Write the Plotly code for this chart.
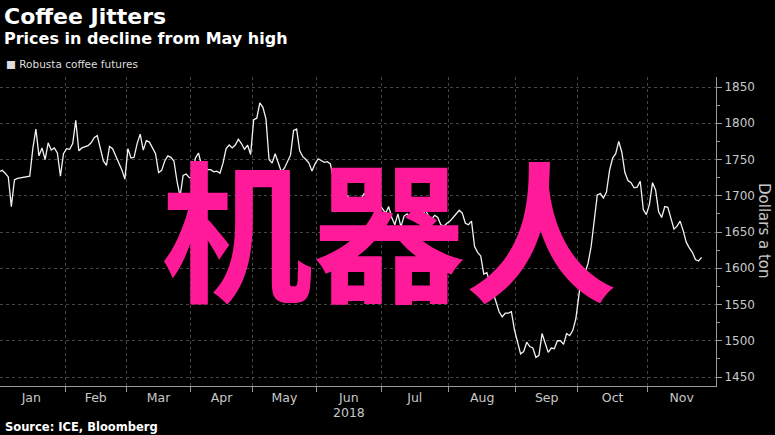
import pandas as pd
import plotly.graph_objects as go

# ---------------- data ----------------
title_text = "Coffee Jitters"
subtitle_text = "Prices in decline from May high"
series_name = "Robusta coffee futures"
source_text = "Source: ICE, Bloomberg"
y_title = "Dollars a ton"
year_label = "2018"
watermark_text = "机器人"

month_labels = ["Jan", "Feb", "Mar", "Apr", "May", "Jun", "Jul", "Aug", "Sep", "Oct", "Nov"]
y_ticks = [1450, 1500, 1550, 1600, 1650, 1700, 1750, 1800, 1850]
uk_holidays = ["2018-01-01", "2018-03-30", "2018-04-02", "2018-05-07",
               "2018-05-28", "2018-08-27", "2018-12-25", "2018-12-26"]

# daily robusta settlement prices (USD/t), 2 Jan 2018 onwards
prices = [
    1733, 1735, 1731, 1726, 1685, 1722, 1724, 1725, 1726, 1727,
    1727, 1765, 1792, 1755, 1766, 1750, 1773, 1763, 1766, 1759,
    1727, 1758, 1765, 1764, 1772, 1804, 1762, 1766, 1768, 1769,
    1773, 1780, 1783, 1765, 1748, 1742, 1768, 1765, 1756, 1745,
    1736, 1723, 1765, 1752, 1753, 1772, 1785, 1763, 1776, 1774,
    1767, 1758, 1732, 1735, 1748, 1755, 1753, 1748, 1720, 1699,
    1728, 1730, 1725, 1725, 1752, 1759, 1742, 1738, 1736, 1736,
    1733, 1734, 1731, 1745, 1765, 1770, 1766, 1770, 1778, 1772,
    1764, 1770, 1757, 1805, 1807, 1828, 1822, 1806, 1750, 1745,
    1758, 1745, 1733, 1738, 1747, 1756, 1790, 1792, 1762, 1754,
    1750, 1745, 1734, 1744, 1751, 1748, 1746, 1747, 1744, 1723,
    1715, 1710, 1706, 1702, 1698, 1694, 1696, 1693, 1696, 1703,
    1697, 1692, 1690, 1692, 1688, 1682, 1676, 1685, 1670, 1660,
    1675, 1657, 1672, 1675, 1670, 1678, 1672, 1668, 1674, 1680,
    1672, 1668, 1673, 1670, 1660, 1658, 1662, 1665, 1670, 1675,
    1680, 1676, 1662, 1660, 1665, 1630, 1622, 1617, 1592, 1594,
    1580, 1568, 1555, 1540, 1533, 1538, 1538, 1540, 1515, 1497,
    1482, 1485, 1498, 1492, 1490, 1477, 1480, 1510, 1497, 1484,
    1490, 1489, 1500, 1500, 1495, 1510, 1507, 1514, 1530, 1565,
    1595, 1594, 1607, 1630, 1670, 1701, 1703, 1697, 1705, 1735,
    1752, 1758, 1775, 1760, 1732, 1721, 1718, 1711, 1712, 1720,
    1681, 1674, 1688, 1718, 1708, 1678, 1670, 1685, 1684, 1670,
    1654, 1658, 1665, 1652, 1636, 1628, 1622, 1612, 1610, 1615,
]

# ---------------- trading-day axis ----------------
cal = pd.offsets.CustomBusinessDay(holidays=uk_holidays)
all_days = pd.date_range("2018-01-02", "2018-12-31", freq=cal)
dates = all_days[: len(prices)]
xs = list(range(len(prices)))

boundaries = []
for m in range(1, 13):
    first = next(i for i, d in enumerate(all_days) if d.month == m)
    boundaries.append(first - 0.5)
label_pos = [(boundaries[i] + boundaries[i + 1]) / 2 for i in range(len(month_labels))]

# ---------------- figure ----------------
W, H = 775, 435
ML, MR, MT, MB = 0, 59, 77, 49
PW, PH = W - ML - MR, H - MT - MB
FONT = "DejaVu Sans"


def px(x):
    return (x - ML) / PW


def py(y):
    return (H - MB - y) / PH


fig = go.Figure()
fig.add_trace(go.Scatter(
    x=xs, y=prices, mode="lines", name=series_name,
    customdata=[d.strftime("%Y-%m-%d") for d in dates],
    hovertemplate="%{customdata}: %{y}<extra></extra>",
    line=dict(color="#f2f2f2", width=1.3),
))

grid = dict(gridcolor="#454545", griddash="dot", gridwidth=1)
tickfont = dict(size=12, color="#c8c8c8", family=FONT)
fig.update_layout(
    width=W, height=H,
    margin=dict(l=ML, r=MR, t=MT, b=MB),
    paper_bgcolor="black", plot_bgcolor="black",
    showlegend=False,
    font=dict(family=FONT, color="#cccccc"),
    xaxis=dict(
        range=[0.3, 233.7],
        tickmode="array", tickvals=label_pos, ticktext=month_labels,
        ticks="", showgrid=False, zeroline=False,
        showline=True, linecolor="#9a9a9a", linewidth=1,
        tickfont=dict(size=12.5, color="#c8c8c8", family=FONT),
        minor=dict(tickmode="array", tickvals=boundaries[1:11], ticks="outside",
                   ticklen=5, tickcolor="#9a9a9a", tickwidth=1, showgrid=True, **grid),
    ),
    yaxis=dict(
        side="right", range=[1437.6, 1863.8],
        tickmode="array", tickvals=y_ticks,
        ticks="outside", ticklen=5, tickcolor="#9a9a9a",
        showgrid=True, **grid, zeroline=False,
        showline=True, linecolor="#9a9a9a", linewidth=1,
        tickfont=tickfont,
        minor=dict(dtick=25, ticks="outside", ticklen=3, tickcolor="#9a9a9a", showgrid=False),
    ),
)

ann = [
    dict(text=f"<b>{title_text}</b>", x=px(2), y=py(16), xanchor="left", yanchor="middle",
         font=dict(size=22, color="white", family=FONT)),
    dict(text=f"<b>{subtitle_text}</b>", x=px(2), y=py(39), xanchor="left", yanchor="middle",
         font=dict(size=16, color="white", family=FONT)),
    dict(text="■ " + series_name, x=px(4), y=py(64), xanchor="left", yanchor="middle",
         font=dict(size=10.5, color="#dddddd", family=FONT)),
    dict(text=f"<b>{source_text}</b>", x=px(3), y=py(427), xanchor="left", yanchor="middle",
         font=dict(size=11.5, color="white", family=FONT)),
    dict(text=year_label, x=label_pos[5], xref="x", y=py(412), xanchor="center", yanchor="middle",
         font=dict(size=12.5, color="#c8c8c8", family=FONT)),
    dict(text=y_title, x=px(764), y=py(231), xanchor="center", yanchor="middle", textangle=90,
         font=dict(size=15, color="#c8c8c8", family=FONT)),
    dict(text=f"<b>{watermark_text}</b>", x=px(389), y=py(225), xanchor="center", yanchor="middle",
         font=dict(size=152, color="#ff1a99", family="Noto Sans CJK SC")),
]
for a in ann:
    a.setdefault("xref", "paper")
    a["yref"] = "paper"
    a["showarrow"] = False
fig.update_layout(annotations=ann)

fig.write_html("out.html", config={"displayModeBar": False},
               post_script="document.body.style.margin='0px';")
